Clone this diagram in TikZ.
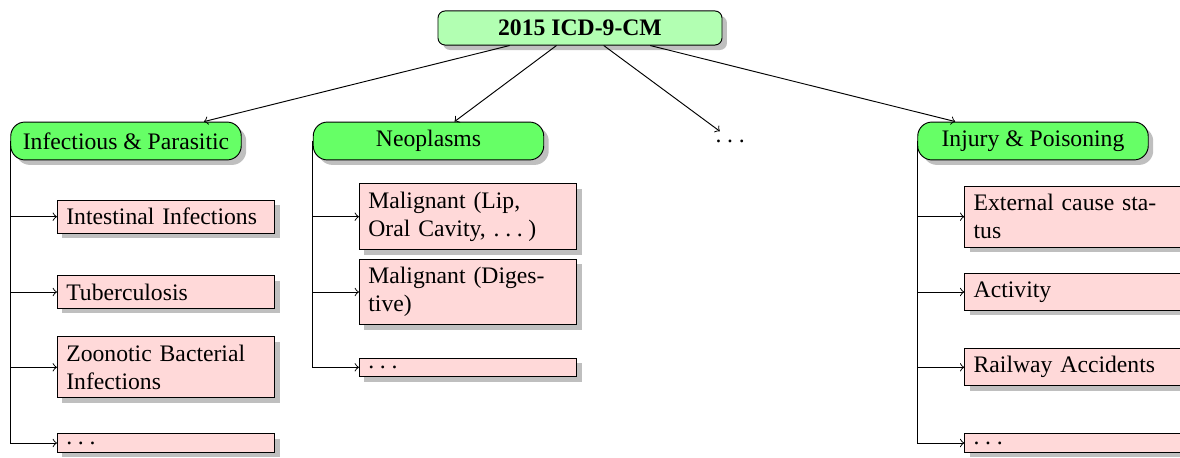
\documentclass[tikz,border=0pt]{standalone}
\usepackage{fontspec}
\setmainfont{Liberation Serif}
\usetikzlibrary{shadows}
\newcommand\mydots{.\kern2.4pt.\kern2.4pt.\kern2.4pt}
\begin{document}
\begin{tikzpicture}[x=0.4225pt,y=-0.4225pt,
  myshadow/.style={drop shadow={shadow xshift=2.1pt,shadow yshift=-2.1pt,fill=black!25,opacity=1}},
  rootbox/.style={draw, fill=green!30, rounded corners=3pt, minimum width=120pt, minimum height=14.4pt, font=\bfseries, align=center, myshadow},
  catbox/.style={draw, fill=green!60, rounded corners=6pt, minimum width=97.4pt, minimum height=16pt, align=center, myshadow},
  leafbox/.style={draw, fill=red!15, text width=84.2pt, inner xsep=3.77pt, align=left, myshadow},
  link/.style={->},
  tree/.style={->}
]
\useasboundingbox (0,0) rectangle (1180,458);
\node[rootbox] (root) at (580,28) {2015 ICD-9-CM};
\node[catbox] (inf) at (126,141) {Infectious \& Parasitic};
\node[catbox] (neo) at (428.5,141) {Neoplasms};
\node (mid) at (733,141) {\mydots};
\node[catbox] (inj) at (1033,141) {Injury \& Poisoning};

\draw[link] (root) -- (inf);
\draw[link] (root) -- (neo);
\draw[link] (root) -- (mid);
\draw[link] (root) -- (inj);

\node[leafbox] (i1) at (166,216.7) {Intestinal Infections};
\node[leafbox] (i2) at (166,292) {Tuberculosis};
\node[leafbox] (i3) at (166,367.3) {Zoonotic Bacterial Infections};
\node[leafbox] (i4) at (166,443) {\mydots};

\node[leafbox] (n1) at (468,216.7) {Malignant (Lip, Oral Cavity, \mydots)};
\node[leafbox] (n2) at (468,292) {Malignant (Digestive)};
\node[leafbox] (n3) at (468,367.3) {\mydots};

\node[leafbox] (j1) at (1073.3,216.7) {External cause status};
\node[leafbox] (j2) at (1073.3,292) {Activity};
\node[leafbox] (j3) at (1073.3,367.3) {Railway Accidents};
\node[leafbox] (j4) at (1073.3,443) {\mydots};

\foreach \c in {i1,i2,i3,i4} \draw[tree] (inf.west) |- (\c.west);
\foreach \c in {n1,n2,n3} \draw[tree] (neo.west) |- (\c.west);
\foreach \c in {j1,j2,j3,j4} \draw[tree] (inj.west) |- (\c.west);
\end{tikzpicture}
\end{document}
